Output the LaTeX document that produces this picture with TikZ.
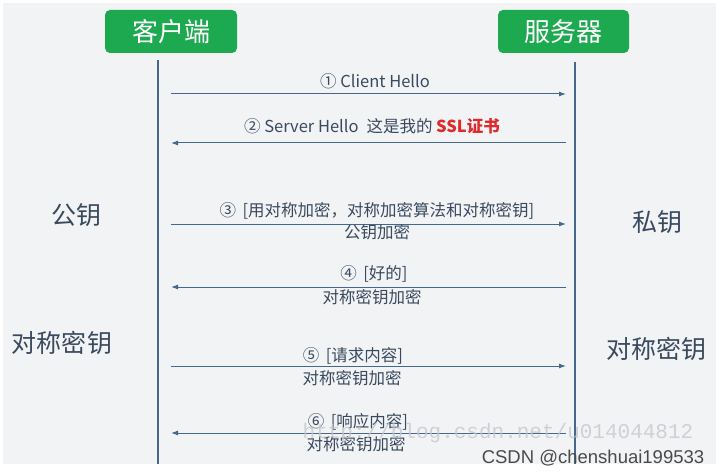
\documentclass[tikz,border=0pt]{standalone}
\usepackage{fontspec}
\setmainfont{Noto Sans CJK SC}
\newfontfamily\wmfont{Liberation Mono}
\newfontfamily\tagfont{Liberation Sans}
\usetikzlibrary{arrows.meta}
\definecolor{ink}{HTML}{3A4A5E}
\definecolor{wire}{HTML}{45678C}
\definecolor{boxgreen}{HTML}{1DA94F}
\definecolor{pale}{HTML}{F1F3F5}
\definecolor{sslred}{HTML}{DD2A2A}
\definecolor{faint}{HTML}{C4C9CE}
\definecolor{tag}{HTML}{4A4A4A}

\begin{document}
\begin{tikzpicture}[x=1pt,y=-1pt,
  every node/.style={font=\fontsize{16.5}{19}\selectfont,text=ink,inner sep=0pt},
  actor/.style={fill=boxgreen,rounded corners=5pt,text=white,font=\fontsize{26}{28}\selectfont,minimum width=132pt,minimum height=43pt},
  side/.style={font=\fontsize{25}{27}\selectfont},
  msg/.style={wire,line width=1pt,-{Latex[length=7pt,width=5pt]}}]
\useasboundingbox (0,0) rectangle (725,473);
\fill[white] (0,0) rectangle (725,473);
\fill[pale] (3,3) rectangle (716,464);
% actors and lifelines
\node[actor] (client) at (171,31.5) {客户端};
\node[actor,minimum width=131pt] (server) at (563.5,31.5) {服务器};
\coordinate (ctop) at (158,60); \coordinate (cend) at (158,464);
\coordinate (stop) at (575,62); \coordinate (send) at (575,464);
\draw[wire,line width=1.3pt] (ctop)--(cend);
\draw[wire,line width=1.3pt] (stop)--(send);
% messages
\foreach \i/\y in {1/94,2/143,3/224,4/287,5/366,6/433}{
  \coordinate (l\i) at (171,\y);
  \coordinate (r\i) at (566,\y);}
\foreach \i in {1,3,5}{\draw[msg] (l\i)--(r\i);}
\foreach \i in {2,4,6}{\draw[msg] (r\i)--(l\i);}
\node (m1) at (375,81) {① Client Hello};
\node (m2) at (372,126) {② Server Hello\hspace{8pt}这是我的 {\color{sslred}\bfseries SSL证书}};
\node (m3a) at (377,211) {③ \,[用对称加密，对称加密算法和对称密钥]};
\node (m3b) at (377,232) {公钥加密};
\node (m4a) at (374,274) {④ \,[好的]};
\node (m4b) at (372,297) {对称密钥加密};
\node (m5a) at (353,356) {⑤ \,[请求内容]};
\node (m5b) at (352,378) {对称密钥加密};
\node (m6a) at (358,422) {⑥ \,[响应内容]};
\node (m6b) at (356,444) {对称密钥加密};
% keys on each side
\node[side] (cpub) at (76,215) {公钥};
\node[side] (csym) at (62,343) {对称密钥};
\node[side] (spriv) at (657,222) {私钥};
\node[side] (ssym) at (656,349) {对称密钥};
% watermark
\node[text=faint,font=\wmfont\fontsize{21}{22}\selectfont,opacity=.8] (wm) at (498,433) {http://blog.csdn.net/u014044812};
\node[text=tag,font=\tagfont\fontsize{18.5}{20}\selectfont] (credit) at (593,458) {CSDN @chenshuai199533};
\end{tikzpicture}
\end{document}
